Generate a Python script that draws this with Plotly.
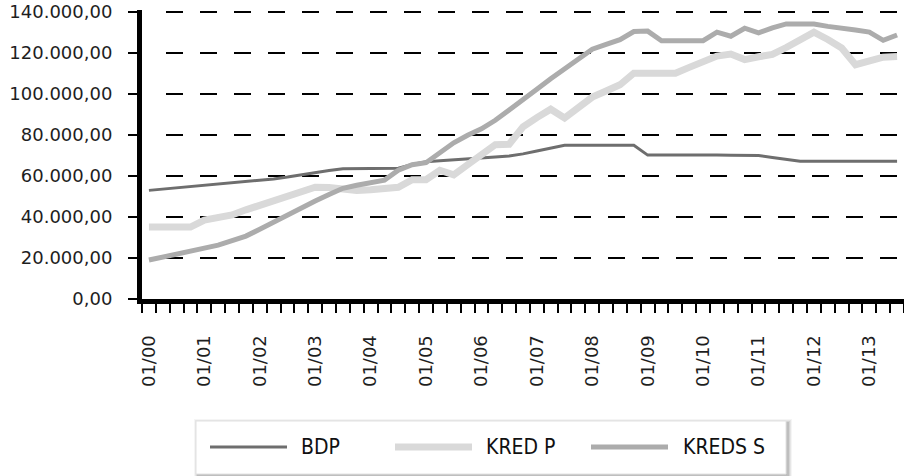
import plotly.graph_objects as go

# Quarterly observations, Q1 2000 - Q3 2013
quarters = [f"{y:02d}Q{q}" for y in range(0, 14) for q in range(1, 5)][:55]

bdp = [53000, 53600, 54200, 54800, 55400, 56000, 56700, 57300, 57900, 58600,
       59500, 60600, 61700, 62700, 63500, 63500, 63500, 63500, 63800, 65600,
       67000, 67400, 67800, 68200, 68800, 69300, 69800, 70800, 72200, 73600,
       75000, 75000, 75000, 75000, 75000, 75000, 70200, 70200, 70400, 70500,
       70400, 70200, 70100, 70000, 70000, 69000, 68000, 67200, 67200, 67200,
       67200, 67200, 67200, 67200, 67200]

kred_p = [35100, 35100, 35100, 35100, 38500, 39500, 41000, 43500, 45700, 47500,
          49800, 52200, 54500, 54400, 53800, 53000, 53300, 53800, 54500, 58200,
          58200, 62800, 60600, 65500, 70500, 75300, 75500, 84000, 88500, 92600,
          88300, 93300, 98500, 101500, 104500, 110200, 110200, 110200, 110200, 113000,
          115800, 118500, 119500, 116800, 118200, 119300, 122700, 126400, 130200, 126600,
          122500, 114300, 116500, 118000, 118300]

kreds_s = [19000, 20300, 21700, 23300, 24800, 26300, 28300, 30700, 34000, 37500,
           41200, 44500, 47800, 51000, 54000, 55500, 57000, 58000, 62800, 65500,
           66500, 71300, 76200, 79900, 83000, 87200, 92000, 97500, 102300, 107500,
           112500, 117300, 121900, 124200, 126500, 130500, 130700, 126000, 126000, 126000,
           126000, 130200, 128200, 132100, 129800, 132300, 134200, 134200, 134200, 133000,
           131800, 131200, 130200, 126200, 128800]

year_labels = [f"01/{y:02d}" for y in range(0, 14)]
y_ticks = [0, 20000, 40000, 60000, 80000, 100000, 120000, 140000]

series = [
    ("BDP", bdp, dict(color="#6e6e6e", width=3)),
    ("KRED P", kred_p, dict(color="#d9d9d9", width=7)),
    ("KREDS S", kreds_s, dict(color="#acacac", width=5)),
]

idx = list(range(len(quarters)))

fig = go.Figure()
for name, vals, line in series:
    fig.add_trace(go.Scatter(x=idx, y=vals, mode="lines", name=name,
                             line=dict(line, shape="linear"), showlegend=False,
                             hoverinfo="skip"))

# plot-area geometry (pixels)
W_PX, H_PX = 904, 476
L, R, T, B = 142, 0, 10, 177
plot_w = W_PX - L - R
plot_h = H_PX - T - B


def px(xp):
    return (xp - L) / plot_w


def py(yp):
    return (H_PX - B - yp) / plot_h


grid_dash = "0px,24px," + ",".join(["17px,17px"] * 23)

fig.update_layout(
    width=W_PX, height=H_PX,
    margin=dict(l=L, r=R, t=T, b=B, pad=0),
    paper_bgcolor="white", plot_bgcolor="white",
    separators=",.",
    font=dict(family="DejaVu Sans", size=18, color="#1e1e1e"),
    xaxis=dict(
        range=[-0.5, len(idx) - 0.5],
        tickmode="array",
        tickvals=idx[::4],
        ticktext=year_labels,
        tickangle=-90,
        ticks="",
        ticklabelstandoff=24,
        showline=True, linewidth=5, linecolor="black",
        showgrid=False, zeroline=False,
        minor=dict(ticks="outside", ticklen=9, tickwidth=2, tickcolor="black",
                   tickmode="linear", tick0=0.5, dtick=1, showgrid=False),
        tickfont=dict(family="DejaVu Sans", size=18, color="#1e1e1e"),
    ),
    yaxis=dict(
        range=[0, 141000],
        tickmode="array",
        tickvals=y_ticks,
        tickformat=",.2f",
        ticks="outside", ticklen=9, tickwidth=2, tickcolor="black",
        ticklabelstandoff=12,
        showline=True, linewidth=5, linecolor="black",
        showgrid=True, gridcolor="black", gridwidth=2, griddash=grid_dash,
        zeroline=False,
        tickfont=dict(family="DejaVu Sans", size=18, color="#1e1e1e"),
    ),
)

# Legend box with soft drop shadow
box = dict(x0=196, x1=786, y0=421, y1=474)
shapes = []
for k, op in [(4, 0.04), (3, 0.06), (2, 0.08), (1, 0.10)]:
    shapes.append(dict(type="rect", xref="paper", yref="paper", layer="above",
                       x0=px(box["x0"] - k + 2), x1=px(box["x1"] + k + 2),
                       y0=py(box["y1"] + k + 2), y1=py(box["y0"] - k + 2),
                       fillcolor=f"rgba(0,0,0,{op})", line=dict(width=0)))
shapes.append(dict(type="rect", xref="paper", yref="paper", layer="above",
                   x0=px(box["x0"]), x1=px(box["x1"]),
                   y0=py(box["y1"]), y1=py(box["y0"]),
                   fillcolor="white", line=dict(color="#e2e2e2", width=1)))

legend_items = [(210, 299), (395, 484), (591, 681)]
legend_y = 447
annotations = []
for (x0, tx), (name, _, line) in zip(legend_items, series):
    shapes.append(dict(type="line", xref="paper", yref="paper", layer="above",
                       x0=px(x0), x1=px(x0 + 77), y0=py(legend_y), y1=py(legend_y),
                       line=dict(color=line["color"], width=line["width"])))
    annotations.append(dict(xref="paper", yref="paper", x=px(tx), y=py(legend_y),
                            text=name, showarrow=False, xanchor="left", yanchor="middle",
                            font=dict(family="Liberation Sans Narrow, DejaVu Sans Condensed, sans-serif",
                                      size=21, color="#111111")))

fig.update_layout(shapes=shapes, annotations=annotations)

fig.write_html("out.html")
